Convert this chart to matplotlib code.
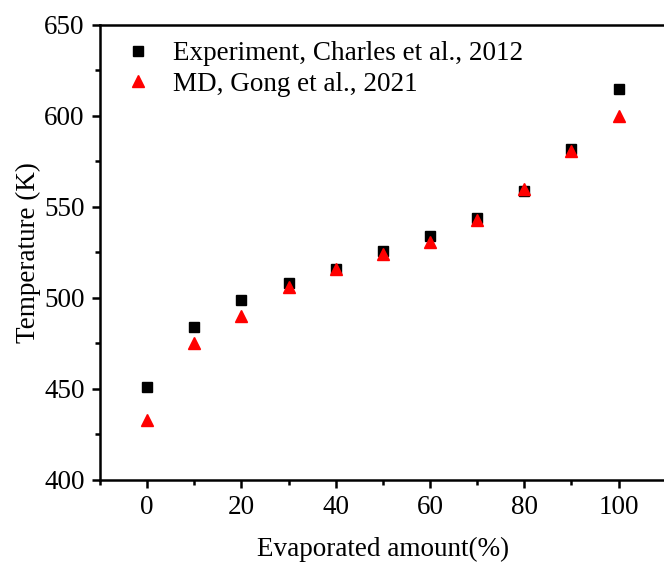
import matplotlib
matplotlib.use("Agg")
import matplotlib.pyplot as plt
from matplotlib.ticker import MultipleLocator

plt.rcParams['font.family'] = ['Liberation Serif', 'DejaVu Serif']

# 蒸发量 (%) 与温度 (K)
evaporated = [0, 10, 20, 30, 40, 50, 60, 70, 80, 90, 100]
temp_exp = [451, 484, 499, 508, 516, 526, 534, 544, 559, 582, 615]
temp_md = [433, 475, 490, 506, 516, 524, 531, 543, 560, 581, 600]

fs = 19.5

fig = plt.figure(figsize=(6.64, 5.66), dpi=100)
ax = fig.add_axes([0.1506, 0.152, 0.852, 0.804])

ax.plot(evaporated, temp_exp, 's', color='black', markersize=7,
        label='Experiment, Charles et al., 2012')
ax.plot(evaporated, temp_md, '^', color='red', markersize=8,
        label='MD, Gong et al., 2021')

ax.set_xlim(-10, 110)
ax.set_ylim(400, 650)
ax.xaxis.set_major_locator(MultipleLocator(20))
ax.xaxis.set_minor_locator(MultipleLocator(10))
ax.yaxis.set_major_locator(MultipleLocator(50))
ax.yaxis.set_minor_locator(MultipleLocator(25))

for s in ax.spines.values():
    s.set_linewidth(1.8)
ax.tick_params(which='major', direction='out', length=6, width=1.8,
               labelsize=fs, pad=5)
ax.tick_params(which='minor', direction='out', length=3.5, width=1.8)

ax.set_xlabel('Evaporated amount(%)', fontsize=fs, labelpad=12)
ax.set_ylabel('Temperature (K)', fontsize=fs, labelpad=2)

ax.legend(loc='upper left', frameon=False, fontsize=fs,
          handlelength=1.0, handletextpad=0.8, borderaxespad=0.2,
          labelspacing=0.2, bbox_to_anchor=(0.015, 1.0))

fig.savefig('out.png', dpi=100)
